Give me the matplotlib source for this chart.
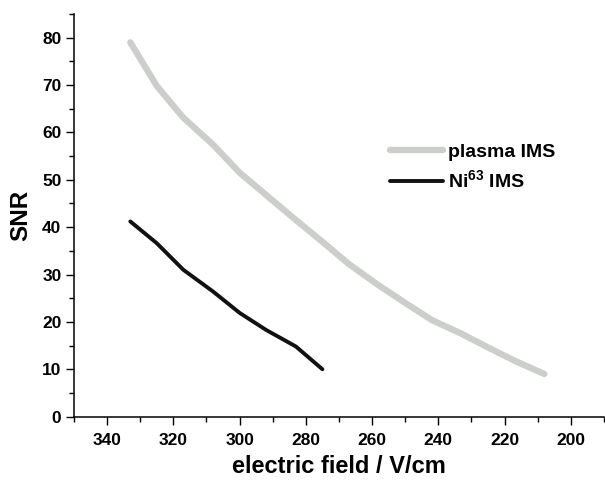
import matplotlib
matplotlib.use("Agg")
import matplotlib.pyplot as plt
from matplotlib.ticker import MultipleLocator

plt.rcParams['font.family'] = ['Liberation Sans', 'DejaVu Sans']
plt.rcParams['font.weight'] = 'bold'
plt.rcParams['mathtext.fontset'] = 'custom'
plt.rcParams['mathtext.rm'] = 'Liberation Sans:bold'
plt.rcParams['mathtext.default'] = 'rm'

# Data
plasma_field = [333, 325, 317, 308, 300, 291, 283, 275, 267, 258, 250, 242, 233, 225, 217, 208]
plasma_snr = [79.0, 69.8, 63.1, 57.4, 51.5, 46.2, 41.5, 36.9, 32.2, 27.7, 24.0, 20.4, 17.5, 14.6, 11.8, 9.0]
ni_field = [333, 325, 317, 308, 300, 292, 283, 275]
ni_snr = [41.2, 36.6, 31.0, 26.4, 21.9, 18.3, 14.8, 10.0]

fig = plt.figure(figsize=(6.05, 4.8), dpi=100)
ax = fig.add_axes([0.1223, 0.132, 0.876, 0.839])

ax.plot(plasma_field, plasma_snr, color='#cccecc', lw=4.6, solid_capstyle='round',
        label='plasma IMS')
ax.plot(ni_field, ni_snr, color='#111111', lw=2.8, solid_capstyle='round',
        label='Ni$^{63}$ IMS')

ax.set_xlim(350, 190)
ax.set_ylim(0, 85)
ax.xaxis.set_major_locator(MultipleLocator(20))
ax.xaxis.set_minor_locator(MultipleLocator(10))
ax.yaxis.set_major_locator(MultipleLocator(10))
ax.yaxis.set_minor_locator(MultipleLocator(5))

for s in ['top', 'right']:
    ax.spines[s].set_visible(False)
for s in ['left', 'bottom']:
    ax.spines[s].set_linewidth(1.1)

ax.tick_params(which='major', direction='out', length=6, width=1.0, labelsize=12.5)
ax.tick_params(which='minor', direction='out', length=3.8, width=1.0)
ax.tick_params(axis='x', which='major', pad=6)
ax.tick_params(axis='y', which='major', pad=3)
for lbl in ax.get_xticklabels() + ax.get_yticklabels():
    lbl.set_fontweight('bold')

ax.set_xlabel('electric field / V/cm', fontsize=17, fontweight='bold', labelpad=5)
ax.set_ylabel('SNR', fontsize=17.5, fontweight='bold', labelpad=7)

leg = ax.legend(loc='upper left', bbox_to_anchor=(0.6446, 0.7016),
                bbox_transform=fig.transFigure, frameon=False,
                prop={'weight': 'bold', 'size': 14}, handlelength=2.73,
                handletextpad=0.26, labelspacing=0.45, borderpad=0, borderaxespad=0)

fig.savefig('out.png', dpi=100)
